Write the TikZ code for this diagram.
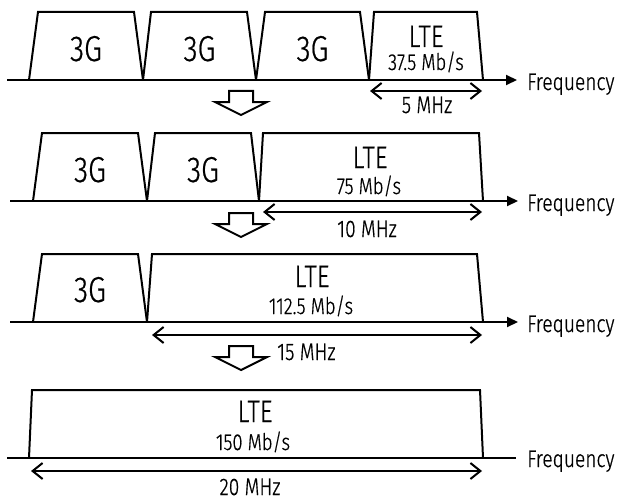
\documentclass[tikz,border=0pt]{standalone}
\usepackage{fontspec}
\setmainfont{Fira Sans Light}[FakeStretch=0.8,FakeBold=0.6]
\usetikzlibrary{arrows.meta}
\tikzset{
  band/.style={line width=2pt, line join=miter},
  axisline/.style={line width=2pt},
  axisarrow/.style={line width=2pt, -{Triangle[length=11pt,width=10pt]}},
  span/.style={line width=2pt, {Straight Barb[length=10pt,width=16pt]}-{Straight Barb[length=10pt,width=16pt]}},
  txt/.style={inner sep=0pt, anchor=base},
  gtxt/.style={txt, font=\fontsize{36}{36}\selectfont},
  ltetxt/.style={txt, font=\fontsize{31}{31}\selectfont},
  ratetxt/.style={txt, font=\fontsize{23}{23}\selectfont},
  labtxt/.style={txt, font=\fontsize{24}{24}\selectfont},
  freqtxt/.style={labtxt, anchor=base west},
  pics/downarr/.style={code={\draw[line width=2pt,line join=miter] (-12,0) -- (12,0) -- (12,11) -- (26,11) -- (0,24) -- (-26,11) -- (-12,11) -- cycle;}}
}
\begin{document}
\begin{tikzpicture}[x=1pt,y=-1pt]
\useasboundingbox (0,0) rectangle (617,500);
% ---------- Row 1 ----------
\coordinate (a1s) at (7,80); \coordinate (a1e) at (517,80);
\draw[band] (29,80)--(38,12)--(134,12)--(143,80);
\draw[band] (143,80)--(151,12)--(247,12)--(256,80);
\draw[band] (256,80)--(265,12)--(360,12)--(369,80);
\draw[band] (369,80)--(374,12)--(477,12)--(483,80);
\draw[axisarrow] (a1s) -- (a1e);
\node[freqtxt] (f1) at (527,90) {Frequency};
\node[gtxt] (g11) at (86,61) {3G};
\node[gtxt] (g12) at (199.5,61) {3G};
\node[gtxt] (g13) at (312.5,61) {3G};
\node[ltetxt] (l1) at (426,47) {LTE};
\node[ratetxt] (r1) at (426,70) {37.5 Mb/s};
\coordinate (s1a) at (370,91); \coordinate (s1b) at (482,91);
\draw[span] (s1a) -- (s1b);
\node[labtxt] (m1) at (427,113) {5 MHz};
\pic at (241,91) {downarr};
% ---------- Row 2 ----------
\coordinate (a2s) at (10,201); \coordinate (a2e) at (518,201);
\draw[band] (33,201)--(42,133)--(138,133)--(147,201);
\draw[band] (147,201)--(155,133)--(251,133)--(259,201);
\draw[band] (259,201)--(263,133)--(479,133)--(483,201);
\draw[axisarrow] (a2s) -- (a2e);
\node[freqtxt] (f2) at (527,211) {Frequency};
\node[gtxt] (g21) at (90,182) {3G};
\node[gtxt] (g22) at (203,182) {3G};
\node[ltetxt] (l2) at (370,168) {LTE};
\node[ratetxt] (r2) at (369,194) {75 Mb/s};
\coordinate (s2a) at (263,212); \coordinate (s2b) at (482,212);
\draw[span] (s2a) -- (s2b);
\node[labtxt] (m2) at (367,237) {10 MHz};
\pic at (241,213) {downarr};
% ---------- Row 3 ----------
\coordinate (a3s) at (10,322); \coordinate (a3e) at (518,322);
\draw[band] (33,322)--(42,254)--(138,254)--(147,322);
\draw[band] (147,322)--(152,254)--(477,254)--(483,322);
\draw[axisarrow] (a3s) -- (a3e);
\node[freqtxt] (f3) at (527,332) {Frequency};
\node[gtxt] (g31) at (90,302) {3G};
\node[ltetxt] (l3) at (312,287) {LTE};
\node[ratetxt] (r3) at (311,314) {112.5 Mb/s};
\coordinate (s3a) at (152,335); \coordinate (s3b) at (482,335);
\draw[span] (s3a) -- (s3b);
\node[labtxt, anchor=base west] (m3) at (277,360) {15 MHz};
\pic at (241,346) {downarr};
% ---------- Row 4 ----------
\coordinate (a4s) at (7,458); \coordinate (a4e) at (516,458);
\draw[band] (29,458)--(32,390)--(480,390)--(483,458);
\draw[axisline] (a4s) -- (a4e);
\node[freqtxt] (f4) at (527,467) {Frequency};
\node[ltetxt] (l4) at (255,422) {LTE};
\node[ratetxt] (r4) at (253,450) {150 Mb/s};
\coordinate (s4a) at (31,471); \coordinate (s4b) at (482,471);
\draw[span] (s4a) -- (s4b);
\node[labtxt] (m4) at (250,495) {20 MHz};
\end{tikzpicture}
\end{document}
